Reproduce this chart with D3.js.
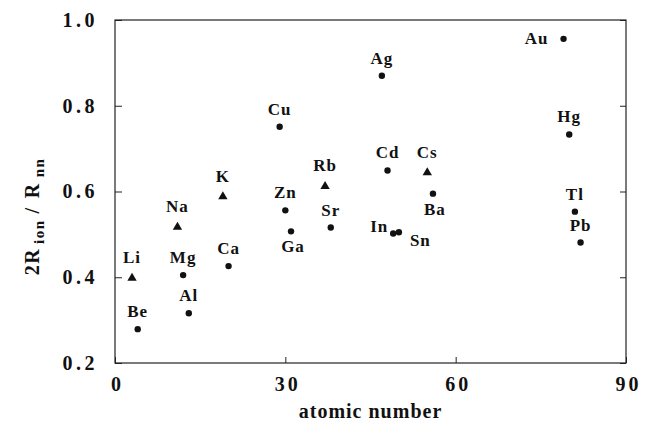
<!DOCTYPE html>
<html>
<head>
<meta charset="utf-8">
<script src="https://cdn.jsdelivr.net/npm/d3@7"></script>
<style>
  body { margin: 0; background: #fff; }
  .axis .domain { display: none; }
  .axis line { stroke: #222; }
</style>
</head>
<body>
<div id="chart"></div>
<script>
// datos
const elements = ['Li','Be','Na','Mg','Al','K','Ca','Cu','Zn','Ga','Rb','Sr','Ag','Cd','In','Sn','Cs','Ba','Au','Hg','Tl','Pb'];
const atomicNumber = [3,4,11,12,13,19,20,29,30,31,37,38,47,48,49,50,55,56,79,80,81,82];
const ratio = [0.398,0.279,0.517,0.405,0.316,0.588,0.426,0.751,0.556,0.507,0.612,0.516,0.870,0.649,0.502,0.505,0.644,0.595,0.956,0.733,0.553,0.481];
const alkali = ['Li','Na','K','Rb','Cs'];
// donde va cada etiqueta
const labelSide = ['n','n','n','n','n','n','n','n','n','s','n','n','n','n','nw','se','n','s','w','n','n','n'];
const xTicks = [0,30,60,90];
const yTicks = [0.2,0.4,0.6,0.8,1.0];

const FONT = '"Liberation Serif", "Times New Roman", Times, "DejaVu Serif", serif';

let margin = {top: 20, right: 19, bottom: 64, left: 115},
    width = 645 - margin.left - margin.right,
    height = 427 - margin.top - margin.bottom;

let svg = d3.select('#chart')
    .append('svg')
        .attr('width', 645)
        .attr('height', 427)
        .attr('font-family', FONT)
        .attr('font-weight', 'bold')
    .append('g')
        .attr('transform', 'translate(' + margin.left + ',' + margin.top + ')');

let x = d3.scaleLinear().domain([0, 90]).range([0, width]);
let y = d3.scaleLinear().domain([0.2, 1.0]).range([height, 0]);

// marco
svg.append('rect')
    .attr('width', width)
    .attr('height', height)
    .attr('fill', 'none')
    .attr('stroke', '#222')
    .attr('stroke-width', 1.2);

// eje X
svg.append('g')
    .attr('class', 'axis')
    .attr('transform', 'translate(0,' + height + ')')
    .call(d3.axisBottom(x).tickValues(xTicks).tickSize(-6).tickPadding(14).tickFormat(d3.format('d')))
    .call(function(g) {
        g.attr('font-family', FONT).attr('font-size', 20);
        g.selectAll('text').attr('fill', '#111').attr('letter-spacing', '3px').attr('dy', '0.71em').attr('dx', '2px');
    });

// eje Y
svg.append('g')
    .attr('class', 'axis')
    .call(d3.axisLeft(y).tickValues(yTicks).tickSize(-7).tickPadding(20).tickFormat(d3.format('.1f')))
    .call(function(g) {
        g.attr('font-family', FONT).attr('font-size', 20);
        g.selectAll('text').attr('fill', '#111').attr('letter-spacing', '3.5px').attr('dx', '3px');
    });

svg.append('g')
    .attr('class', 'axis')
    .attr('transform', 'translate(' + width + ',0)')
    .call(d3.axisRight(y).tickValues(yTicks).tickSize(-6).tickFormat(''));

// titulos
svg.append('text')
    .attr('x', width / 2)
    .attr('y', height + 55)
    .attr('text-anchor', 'middle')
    .attr('letter-spacing', '1px')
    .attr('font-size', 20)
    .attr('fill', '#111')
    .text('atomic number');

let yt = svg.append('text')
    .attr('transform', 'translate(' + (-76) + ',' + (height / 2 + 25) + ') rotate(-90)')
    .attr('text-anchor', 'middle')
    .attr('font-size', 20)
    .attr('letter-spacing', '1.5px')
    .attr('fill', '#111');
yt.append('tspan').text('2R');
yt.append('tspan').attr('dx', 4).attr('dy', 5).attr('font-size', 15).text('ion');
yt.append('tspan').attr('dx', 6).attr('dy', -5).text('/');
yt.append('tspan').attr('dx', 8).text('R');
yt.append('tspan').attr('dx', 5).attr('dy', 5).attr('font-size', 15).text('nn');

// puntos
let data = elements.map(function(d, i) {
    return {el: d, z: atomicNumber[i], v: ratio[i], side: labelSide[i], tri: alkali.indexOf(d) >= 0};
});

svg.selectAll('.dot')
    .data(data.filter(function(d) { return !d.tri; }))
    .enter()
    .append('circle')
    .attr('class', 'dot')
    .attr('cx', function(d) { return x(d.z); })
    .attr('cy', function(d) { return y(d.v); })
    .attr('r', 3.2)
    .attr('fill', '#111');

svg.selectAll('.tri')
    .data(data.filter(function(d) { return d.tri; }))
    .enter()
    .append('path')
    .attr('class', 'tri')
    .attr('d', d3.symbol().type(d3.symbolTriangle).size(38))
    .attr('transform', function(d) { return 'translate(' + x(d.z) + ',' + y(d.v) + ')'; })
    .attr('fill', '#111');

// etiquetas
const sideOffset = {
    n:  {dx: 0,   dy: -12, anchor: 'middle'},
    s:  {dx: 2,   dy: 21,  anchor: 'middle'},
    nw: {dx: -5,  dy: -2,  anchor: 'end'},
    w:  {dx: -15, dy: 5,   anchor: 'end'},
    se: {dx: 11,  dy: 14,  anchor: 'start'}
};

svg.selectAll('.lbl')
    .data(data)
    .enter()
    .append('text')
    .attr('class', 'lbl')
    .attr('x', function(d) { return x(d.z) + sideOffset[d.side].dx; })
    .attr('y', function(d) { return y(d.v) + sideOffset[d.side].dy - (d.tri ? 3 : 0); })
    .attr('text-anchor', function(d) { return sideOffset[d.side].anchor; })
    .attr('letter-spacing', '1px')
    .attr('font-size', 17)
    .attr('fill', '#111')
    .text(function(d) { return d.el; });
</script>
</body>
</html>
